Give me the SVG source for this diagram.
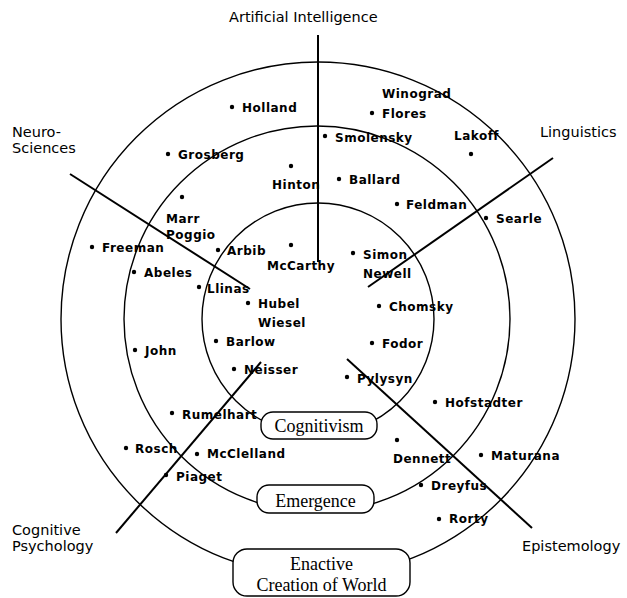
<svg xmlns="http://www.w3.org/2000/svg" width="627" height="598" viewBox="0 0 627 598">
<style>
.ring{fill:none;stroke:#000;stroke-width:1.4}
.ax{stroke:#000;stroke-width:2;fill:none}
.dot{fill:#000}
.nm{font-family:"DejaVu Sans",sans-serif;font-weight:bold;font-size:12px;letter-spacing:0.5px;fill:#000}
.cat{font-family:"DejaVu Sans",sans-serif;font-size:14.5px;fill:#000}
.box{fill:#fff;stroke:#000;stroke-width:1.4}
.bl{font-family:"Liberation Serif",serif;font-size:18px;fill:#000;text-anchor:middle}
</style>
<rect width="627" height="598" fill="#fff"/>
<g id="rings">
<circle class="ring" cx="318" cy="319" r="116"/>
<circle class="ring" cx="317" cy="319" r="193"/>
<circle class="ring" cx="318" cy="319" r="257"/>
</g>
<g id="connectors">
<line class="ax" x1="318" y1="35" x2="318" y2="262"/>
<line class="ax" x1="70" y1="174" x2="250" y2="289"/>
<line class="ax" x1="553" y1="158" x2="368" y2="287"/>
<line class="ax" x1="116" y1="533" x2="261" y2="362"/>
<line class="ax" x1="347" y1="359" x2="532" y2="528"/>
</g>
<g id="cat-ai"><text class="cat" x="229" y="22">Artificial Intelligence</text></g>
<g id="cat-neuro"><text class="cat" x="12" y="137">Neuro-</text><text class="cat" x="12" y="153">Sciences</text></g>
<g id="cat-ling"><text class="cat" x="540" y="137">Linguistics</text></g>
<g id="cat-cogpsy"><text class="cat" x="12" y="535">Cognitive</text><text class="cat" x="12" y="551">Psychology</text></g>
<g id="cat-epist"><text class="cat" x="522" y="551">Epistemology</text></g>
<g id="box-cognitivism"><rect class="box" x="261" y="412" width="116" height="27" rx="12"/><text class="bl" x="319" y="432">Cognitivism</text></g>
<g id="box-emergence"><rect class="box" x="257" y="485" width="117" height="28" rx="12"/><text class="bl" x="315.5" y="507">Emergence</text></g>
<g id="box-enactive"><rect class="box" x="233" y="549" width="177" height="47" rx="14"/><text class="bl" x="321.5" y="570">Enactive</text><text class="bl" x="321.5" y="591">Creation of World</text></g>
<g id="n-holland"><circle class="dot" cx="232" cy="107" r="2.2"/><text class="nm" x="242" y="112">Holland</text></g>
<g id="n-grosberg"><circle class="dot" cx="168" cy="154" r="2.2"/><text class="nm" x="178" y="159">Grosberg</text></g>
<g id="n-hinton"><circle class="dot" cx="291" cy="166" r="2.2"/><text class="nm" x="272" y="189">Hinton</text></g>
<g id="n-marr"><circle class="dot" cx="182" cy="197" r="2.2"/><text class="nm" x="166" y="223">Marr</text><text class="nm" x="166" y="239">Poggio</text></g>
<g id="n-freeman"><circle class="dot" cx="92" cy="247" r="2.2"/><text class="nm" x="102" y="252">Freeman</text></g>
<g id="n-arbib"><circle class="dot" cx="218" cy="250" r="2.2"/><text class="nm" x="227" y="255">Arbib</text></g>
<g id="n-mccarthy"><circle class="dot" cx="291" cy="245" r="2.2"/><text class="nm" x="267" y="270">McCarthy</text></g>
<g id="n-abeles"><circle class="dot" cx="134" cy="272" r="2.2"/><text class="nm" x="144" y="277">Abeles</text></g>
<g id="n-llinas"><circle class="dot" cx="199" cy="287" r="2.2"/><text class="nm" x="207" y="293">Llinas</text></g>
<g id="n-hubel"><circle class="dot" cx="248" cy="303" r="2.2"/><text class="nm" x="258" y="308">Hubel</text><text class="nm" x="258" y="327">Wiesel</text></g>
<g id="n-barlow"><circle class="dot" cx="216" cy="341" r="2.2"/><text class="nm" x="226" y="346">Barlow</text></g>
<g id="n-neisser"><circle class="dot" cx="234" cy="369" r="2.2"/><text class="nm" x="244" y="374">Neisser</text></g>
<g id="n-simon"><circle class="dot" cx="353" cy="253" r="2.2"/><text class="nm" x="363" y="259">Simon</text><text class="nm" x="363" y="278">Newell</text></g>
<g id="n-chomsky"><circle class="dot" cx="379" cy="306" r="2.2"/><text class="nm" x="389" y="311">Chomsky</text></g>
<g id="n-fodor"><circle class="dot" cx="372" cy="343" r="2.2"/><text class="nm" x="382" y="348">Fodor</text></g>
<g id="n-pylysyn"><circle class="dot" cx="347" cy="377" r="2.2"/><text class="nm" x="357" y="383">Pylysyn</text></g>
<g id="n-feldman"><circle class="dot" cx="397" cy="204" r="2.2"/><text class="nm" x="406" y="209">Feldman</text></g>
<g id="n-winograd"><text class="nm" x="382" y="98">Winograd</text><circle class="dot" cx="372" cy="113" r="2.2"/><text class="nm" x="382" y="118">Flores</text></g>
<g id="n-smolensky"><circle class="dot" cx="325" cy="136" r="2.2"/><text class="nm" x="335" y="142">Smolensky</text></g>
<g id="n-lakoff"><text class="nm" x="454" y="140">Lakoff</text><circle class="dot" cx="471" cy="154" r="2.2"/></g>
<g id="n-ballard"><circle class="dot" cx="339" cy="179" r="2.2"/><text class="nm" x="349" y="184">Ballard</text></g>
<g id="n-searle"><circle class="dot" cx="486" cy="218" r="2.2"/><text class="nm" x="496" y="223">Searle</text></g>
<g id="n-john"><circle class="dot" cx="135" cy="350" r="2.2"/><text class="nm" x="145" y="355">John</text></g>
<g id="n-rumelhart"><circle class="dot" cx="172" cy="413" r="2.2"/><text class="nm" x="182" y="419">Rumelhart</text></g>
<g id="n-rosch"><circle class="dot" cx="126" cy="448" r="2.2"/><text class="nm" x="135" y="453">Rosch</text></g>
<g id="n-mcclelland"><circle class="dot" cx="197" cy="454" r="2.2"/><text class="nm" x="207" y="458">McClelland</text></g>
<g id="n-piaget"><circle class="dot" cx="166" cy="475" r="2.2"/><text class="nm" x="176" y="481">Piaget</text></g>
<g id="n-hofstadter"><circle class="dot" cx="435" cy="402" r="2.2"/><text class="nm" x="445" y="407">Hofstadter</text></g>
<g id="n-dennett"><circle class="dot" cx="397" cy="440" r="2.2"/><text class="nm" x="393" y="463">Dennett</text></g>
<g id="n-maturana"><circle class="dot" cx="481" cy="455" r="2.2"/><text class="nm" x="491" y="460">Maturana</text></g>
<g id="n-dreyfus"><circle class="dot" cx="421" cy="485" r="2.2"/><text class="nm" x="431" y="490">Dreyfus</text></g>
<g id="n-rorty"><circle class="dot" cx="439" cy="519" r="2.2"/><text class="nm" x="449" y="523">Rorty</text></g>
</svg>
